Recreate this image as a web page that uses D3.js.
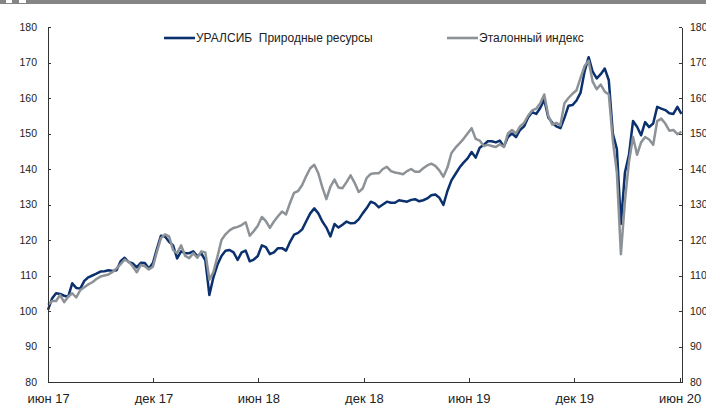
<!DOCTYPE html>
<html>
<head>
<meta charset="utf-8">
<script src="https://cdn.jsdelivr.net/npm/d3@7"></script>
<style>
  body { margin: 0; background: #fff; }
  svg { display: block; font-family: "Liberation Sans", Arial, sans-serif; }
  .axis path, .axis line { stroke: #333; shape-rendering: crispEdges; }
  .axis text { fill: #222; }
  .legend text { white-space: pre; }
</style>
</head>
<body>
<div id="chart"></div>
<script>
// weekly closes, first point 1 Jun 2017
var startDate = new Date(2017, 5, 1);

var uralsib = [
  100.3, 103.5, 105, 104.8, 104.3, 104, 107.8, 106.5, 106.3, 108.5,
  109.5, 110, 110.5, 111.1, 111.2, 111.5, 111.3, 111.5, 114, 115,
  113.8, 113.4, 112.3, 113.6, 113.5, 112, 113.5, 117.5, 121.2, 121,
  119.5, 118.5, 114.8, 116.8, 116.3, 116.3, 116.8, 115.5, 116.2, 114.3,
  104.5, 109.5, 113, 115.5, 117, 117.2, 116.5, 114.4, 116.5, 117,
  114, 114.5, 115.5, 118.5, 118, 116, 116.5, 117.7, 117.7, 117,
  119.5, 121.5, 122, 123, 125.3, 127.5, 128.9, 127.5, 125.2, 123.5,
  121, 124.5, 123.5, 124.3, 125.2, 124.7, 124.8, 125.8, 127.5, 129,
  130.8, 130.3, 129.2, 130, 130.8, 130.5, 130.5, 131.2, 131, 130.8,
  131.3, 131.5, 130.9, 131.2, 131.7, 132.6, 132.8, 131.9, 129.9, 133.8,
  136.8, 138.6, 140.4, 141.8, 143, 144.8, 143.2, 146, 146.8, 147.8,
  147.8, 147.5, 148, 146.3, 149, 150, 149, 151, 152, 154.5,
  156, 155.5, 157.2, 159.5, 154.5, 153, 152, 151.5, 154.4, 157.8,
  158, 159.3, 161.5, 167.5, 171.5, 167.4, 165.5, 166.7, 168.3, 165,
  150, 145.6, 124.5, 139, 144, 153.5, 151.9, 149.5, 153.2, 151.8,
  152.8, 157.5, 157, 156.6, 155.7, 155.5, 157.5, 155.5
];

var benchmark = [
  101.7, 102.8, 102.8, 104.5, 102.5, 104, 105, 103.8, 105.9, 106.7,
  107.5, 108.1, 109, 109.7, 110, 110.3, 111, 112, 113.2, 114.5,
  113.9, 112.6, 110.9, 113, 112.6, 111.7, 112.5, 116.7, 120.5, 121.6,
  121, 117.2, 116.3, 118.5, 115.5, 114.9, 116.3, 115, 116.8, 116.5,
  108.8, 111, 115.3, 120, 121.6, 122.7, 123.4, 123.7, 124.2, 125,
  121.2, 122.5, 124, 126.5, 125.3, 123.4, 125.2, 126.7, 128, 127.2,
  130.5, 133.3, 133.8, 135.5, 138, 140.2, 141.2, 138.8, 134.8, 131.5,
  135, 137, 134.8, 134.6, 136.3, 138.2, 136.1, 133.5, 134.5, 137.5,
  138.6, 138.8, 138.8, 140, 140.6, 139.4, 139, 138.8, 138.5, 139.4,
  140, 139.2, 139.2, 140.2, 141, 141.5, 140.9, 139.6, 137.8, 140.4,
  144.5, 146, 147.2, 148.5, 150, 151.5, 148.5, 148, 146.5, 146.8,
  146.5, 146.2, 147, 146.2, 150, 151, 150, 152, 153, 155,
  156.5, 157, 158.5, 161, 155, 152.5, 153, 152.3, 158.5, 160,
  161.2, 162.2, 165.7, 169, 170.5, 164.6, 162.5, 163.8, 161.8, 161,
  148, 139, 116, 131, 142, 149, 144, 147.5, 149, 148.3,
  146.8, 153.5, 154.2, 152.8, 150.8, 151, 149.8, 150.5
];

var tickDates = ["2017-06-01", "2017-12-01", "2018-06-01", "2018-12-01",
                 "2019-06-01", "2019-12-01", "2020-06-01"];
var tickLabels = ["июн 17", "дек 17", "июн 18", "дек 18", "июн 19", "дек 19", "июн 20"];
var yTicks = [80, 90, 100, 110, 120, 130, 140, 150, 160, 170, 180];

var seriesNames = ["УРАЛСИБ  Природные ресурсы", "Эталонный индекс"];
var seriesColors = ["#0a306e", "#8d9297"];

var svgWidth = 706;
var svgHeight = 405;
var margin = { top: 27, right: 24, bottom: 23, left: 48 };
var width = svgWidth - margin.left - margin.right;
var height = svgHeight - margin.top - margin.bottom;

var svg = d3.select("#chart")
  .append("svg")
  .attr("width", svgWidth)
  .attr("height", svgHeight);

// grey strip at the very top (cut-off header)
svg.append("rect")
  .attr("x", 0).attr("y", 0)
  .attr("width", svgWidth).attr("height", 4)
  .attr("fill", "#858585");
svg.append("rect").attr("x", 6).attr("y", 0).attr("width", 6).attr("height", 3).attr("fill", "#fff");
svg.append("rect").attr("x", 19).attr("y", 0).attr("width", 7).attr("height", 3).attr("fill", "#fff");

var chartGroup = svg.append("g")
  .attr("transform", `translate(${margin.left}, ${margin.top})`);

var parse = d3.timeParse("%Y-%m-%d");

var xScale = d3.scaleTime()
  .domain([startDate, new Date(2020, 5, 5)])
  .range([0, width]);

var yScale = d3.scaleLinear()
  .domain([80, 180])
  .range([height, 0]);

var dataU = uralsib.map((v, i) => ({ date: d3.timeWeek.offset(startDate, i), value: v }));
var dataB = benchmark.map((v, i) => ({ date: d3.timeWeek.offset(startDate, i), value: v }));

var line = d3.line()
  .x(d => xScale(d.date))
  .y(d => yScale(d.value));

// axes
var bottomAxis = d3.axisBottom(xScale)
  .tickValues(tickDates.map(parse))
  .tickFormat((d, i) => tickLabels[i])
  .tickSizeInner(-4)
  .tickSizeOuter(0)
  .tickPadding(12);

var leftAxis = d3.axisLeft(yScale)
  .tickValues(yTicks)
  .tickSizeInner(-3)
  .tickSizeOuter(0)
  .tickPadding(11);

var rightAxis = d3.axisRight(yScale)
  .tickValues(yTicks)
  .tickSizeInner(-3)
  .tickSizeOuter(0)
  .tickPadding(8);

chartGroup.append("path")
  .datum(dataU)
  .attr("fill", "none")
  .attr("stroke", seriesColors[0])
  .attr("stroke-width", 2.5)
  .attr("stroke-linejoin", "round")
  .attr("d", line);

chartGroup.append("path")
  .datum(dataB)
  .attr("fill", "none")
  .attr("stroke", seriesColors[1])
  .attr("stroke-width", 2.5)
  .attr("stroke-linejoin", "round")
  .attr("d", line);

chartGroup.append("g")
  .attr("class", "axis")
  .attr("transform", `translate(0, ${height})`)
  .call(bottomAxis)
  .selectAll("text")
  .style("font-size", "13px");

chartGroup.append("g")
  .attr("class", "axis")
  .call(leftAxis)
  .selectAll("text")
  .style("font-size", "10.5px");

chartGroup.append("g")
  .attr("class", "axis")
  .attr("transform", `translate(${width}, 0)`)
  .call(rightAxis)
  .selectAll("text")
  .style("font-size", "10.5px");

chartGroup.selectAll(".axis .domain").attr("stroke-width", 1.2);

// legend
var legendX = [164 - margin.left, 447 - margin.left];
var legend = chartGroup.selectAll(".legend")
  .data(seriesNames)
  .enter()
  .append("g")
  .attr("class", "legend")
  .attr("transform", (d, i) => `translate(${legendX[i]}, ${38 - margin.top})`);

legend.append("line")
  .attr("x1", 0).attr("x2", 31)
  .attr("y1", 0).attr("y2", 0)
  .attr("stroke", (d, i) => seriesColors[i])
  .attr("stroke-width", 2.6);

legend.append("text")
  .attr("x", 32)
  .attr("y", 0)
  .attr("dy", "0.35em")
  .style("font-size", "12px")
  .attr("fill", "#222")
  .text(d => d);
</script>
</body>
</html>
